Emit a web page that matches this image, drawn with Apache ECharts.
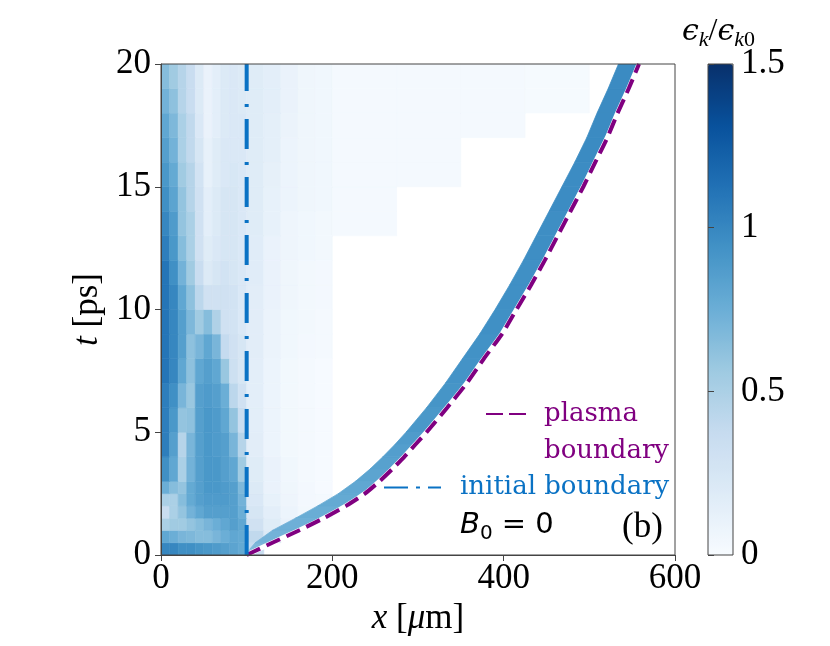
<!DOCTYPE html>
<html>

<head>
    <meta charset="utf-8" />
    <title>B0 = 0 (b)</title>
    <script src="https://cdn.jsdelivr.net/npm/echarts/dist/echarts.min.js"></script>
    <style>
        html, body {
            margin: 0;
            padding: 0;
            background: #fff;
        }

        #main {
            width: 830px;
            height: 646px;
        }
    </style>
</head>

<body>
    <div id="main"></div>
</body>

<script>
    // 网格边界 (x: µm, t: ps)
    var xEdges = [0, 10, 20, 30, 40, 50, 60, 70, 80, 90, 100, 120, 140, 160, 180, 200, 275, 350, 425, 500];
    var tEdges = [0, 0.5, 1, 1.5, 2, 2.5, 3, 4, 5, 6, 7, 8, 9, 10, 11, 12, 13, 14, 15, 16, 17, 18, 19, 20];

    // 每行对应一个 t 区间 (从 t=0 开始), 每列对应一个 x 区间, 值为 ϵk/ϵk0
    var fieldRows = [
        [1.0, 1.0, 0.95, 0.95, 0.92, 0.9, 0.88, 0.85, 0.82, 0.78, 0.35, 0, 0, 0, 0, 0, 0, 0, 0],
        [0.8, 0.75, 0.7, 0.68, 0.65, 0.65, 0.7, 0.75, 0.8, 0.78, 0.4, 0.2, 0, 0, 0, 0, 0, 0, 0],
        [0.5, 0.55, 0.55, 0.6, 0.65, 0.7, 0.75, 0.8, 0.85, 0.8, 0.3, 0.18, 0.1, 0, 0, 0, 0, 0, 0],
        [0.35, 0.5, 0.6, 0.72, 0.8, 0.85, 0.85, 0.85, 0.85, 0.75, 0.25, 0.15, 0.08, 0.04, 0.02, 0, 0, 0, 0],
        [0.5, 0.5, 0.65, 0.78, 0.85, 0.88, 0.88, 0.88, 0.85, 0.72, 0.22, 0.12, 0.07, 0.03, 0.02, 0, 0, 0, 0],
        [0.75, 0.65, 0.6, 0.78, 0.85, 0.9, 0.9, 0.88, 0.85, 0.68, 0.2, 0.1, 0.06, 0.03, 0.01, 0, 0, 0, 0],
        [0.95, 0.8, 0.5, 0.72, 0.85, 0.9, 0.9, 0.85, 0.8, 0.55, 0.18, 0.1, 0.05, 0.02, 0.01, 0, 0, 0, 0],
        [1.05, 0.85, 0.45, 0.7, 0.85, 0.9, 0.88, 0.85, 0.7, 0.45, 0.16, 0.08, 0.04, 0.02, 0.01, 0, 0, 0, 0],
        [1.05, 0.9, 0.6, 0.62, 0.85, 0.9, 0.88, 0.8, 0.6, 0.35, 0.15, 0.08, 0.04, 0.02, 0.01, 0, 0, 0, 0],
        [1.05, 0.95, 0.7, 0.58, 0.85, 0.88, 0.85, 0.75, 0.42, 0.3, 0.15, 0.08, 0.04, 0.02, 0.01, 0, 0, 0, 0],
        [1.1, 1.0, 0.8, 0.62, 0.8, 0.85, 0.8, 0.58, 0.32, 0.25, 0.15, 0.08, 0.04, 0.02, 0.01, 0, 0, 0, 0],
        [1.1, 1.0, 0.85, 0.62, 0.7, 0.8, 0.7, 0.38, 0.3, 0.25, 0.16, 0.09, 0.05, 0.03, 0.02, 0, 0, 0, 0],
        [1.1, 1.0, 0.85, 0.68, 0.55, 0.65, 0.48, 0.3, 0.28, 0.22, 0.16, 0.09, 0.05, 0.04, 0.02, 0, 0, 0, 0],
        [1.1, 1.0, 0.8, 0.62, 0.42, 0.3, 0.3, 0.3, 0.28, 0.22, 0.16, 0.1, 0.06, 0.04, 0.03, 0, 0, 0, 0],
        [1.1, 0.95, 0.72, 0.55, 0.35, 0.2, 0.25, 0.28, 0.25, 0.22, 0.17, 0.1, 0.06, 0.04, 0.03, 0, 0, 0, 0],
        [1.05, 0.9, 0.65, 0.5, 0.3, 0.18, 0.22, 0.25, 0.25, 0.22, 0.17, 0.1, 0.07, 0.05, 0.04, 0, 0, 0, 0],
        [1.0, 0.88, 0.6, 0.5, 0.3, 0.15, 0.2, 0.25, 0.25, 0.22, 0.18, 0.12, 0.07, 0.05, 0.04, 0.02, 0, 0, 0],
        [0.95, 0.82, 0.6, 0.45, 0.3, 0.15, 0.2, 0.25, 0.25, 0.22, 0.18, 0.12, 0.08, 0.06, 0.05, 0.02, 0, 0, 0],
        [0.9, 0.78, 0.55, 0.45, 0.28, 0.12, 0.18, 0.22, 0.24, 0.22, 0.18, 0.13, 0.08, 0.06, 0.05, 0.02, 0.02, 0, 0],
        [0.85, 0.72, 0.5, 0.4, 0.25, 0.12, 0.18, 0.22, 0.22, 0.22, 0.18, 0.14, 0.08, 0.06, 0.05, 0.02, 0.02, 0, 0],
        [0.8, 0.68, 0.5, 0.4, 0.22, 0.1, 0.15, 0.2, 0.22, 0.22, 0.18, 0.14, 0.09, 0.06, 0.05, 0.02, 0.02, 0.02, 0],
        [0.72, 0.62, 0.45, 0.35, 0.2, 0.1, 0.15, 0.2, 0.22, 0.2, 0.18, 0.15, 0.1, 0.06, 0.05, 0.02, 0.02, 0.02, 0.015],
        [0.65, 0.55, 0.45, 0.35, 0.2, 0.1, 0.15, 0.2, 0.22, 0.2, 0.18, 0.15, 0.1, 0.06, 0.05, 0.02, 0.02, 0.02, 0.015]
    ];

    // 等离子体边界 (虚线) 以及其内侧的高能带
    var boundaryT = [0, 0.25, 0.5, 1, 1.5, 2, 2.5, 3, 3.5, 4, 4.5, 5, 6, 7, 8, 9, 10, 11, 12, 13, 14, 15, 16, 17, 18, 19, 20];
    var plasmaX = [100, 115, 130, 161, 190, 216, 238, 255, 270, 284, 297, 310, 334, 357, 377, 398, 415, 432, 448, 463, 478, 493, 507, 521, 533, 546, 558];
    var bandInnerX = [100, 104, 110, 130, 157, 183, 207, 227, 244, 259, 273, 286, 310, 332, 352, 372, 390, 407, 423, 438, 453, 468, 483, 497, 509, 522, 534];
    var bandLevel = [0.6, 0.68, 0.72, 0.74, 0.76, 0.78, 0.8, 0.82, 0.84, 0.86, 0.88, 0.9, 0.92, 0.93, 0.94, 0.95, 0.95, 0.95, 0.96, 0.96, 0.97, 0.97, 0.98, 0.98, 0.98, 0.98];

    // 初始边界
    var initialX = 100;
    var initialT = [0, 20];

    // Blues 色带
    var blues = ['#f7fbff', '#deebf7', '#c6dbef', '#9ecae1', '#6baed6', '#4292c6', '#2171b5', '#08519c', '#08306b'];

    var serif = 'Liberation Serif';
    var legendFont = 'DejaVu Serif';
    var purple = '#800080';
    var blue = '#0a72c4';

    // 组装数据
    var fieldData = [];
    for (var r = 0; r < fieldRows.length; r++) {
        for (var c = 0; c < fieldRows[r].length; c++) {
            var v = fieldRows[r][c];
            if (v > 0) {
                fieldData.push([xEdges[c], xEdges[c + 1], tEdges[r], tEdges[r + 1], v]);
            }
        }
    }
    var bandData = bandLevel.map(function (v, i) { return [i, v]; });
    var plasmaLine = boundaryT.map(function (t, i) { return [plasmaX[i], t]; });
    var initialLine = initialT.map(function (t) { return [initialX, t]; });

    function renderCell(params, api) {
        var p0 = api.coord([api.value(0), api.value(3)]);
        var p1 = api.coord([api.value(1), api.value(2)]);
        var color = api.visual('color');
        return {
            type: 'rect',
            shape: { x: p0[0], y: p0[1], width: p1[0] - p0[0], height: p1[1] - p0[1] },
            style: { fill: color, stroke: color, lineWidth: 0.6 }
        };
    }

    function renderBand(params, api) {
        var i = api.value(0);
        var pts = [
            api.coord([plasmaX[i], boundaryT[i]]),
            api.coord([plasmaX[i + 1], boundaryT[i + 1]]),
            api.coord([bandInnerX[i + 1], boundaryT[i + 1]]),
            api.coord([bandInnerX[i], boundaryT[i]])
        ];
        var color = api.visual('color');
        return {
            type: 'polygon',
            shape: { points: pts },
            style: { fill: color, stroke: color, lineWidth: 0.8 }
        };
    }

    var myChart = echarts.init(document.getElementById('main'));

    var tickLabel = { fontFamily: serif, fontSize: 35, color: '#000' };

    var option = {
        animation: false,
        backgroundColor: '#fff',
        grid: [
            { left: 161, top: 64, width: 514, height: 491, show: true, z: 5, borderColor: '#444', borderWidth: 1, backgroundColor: 'rgba(0,0,0,0)' },
            { left: 708, top: 64, width: 25, height: 491, show: true, z: 5, borderColor: '#444', borderWidth: 1, backgroundColor: 'rgba(0,0,0,0)' }
        ],
        xAxis: [
            {
                gridIndex: 0, type: 'value', min: 0, max: 600, interval: 200, z: 10,
                axisLine: { lineStyle: { color: '#444', width: 1 } },
                axisTick: { inside: false, length: 6, lineStyle: { color: '#444' } },
                axisLabel: Object.assign({ margin: 6 }, tickLabel),
                splitLine: { show: false },
                name: '{i|x} [{i|μ}m]',
                nameLocation: 'middle',
                nameGap: 43,
                nameTextStyle: {
                    fontFamily: serif, fontSize: 35, color: '#000',
                    rich: { i: { fontFamily: serif, fontStyle: 'italic', fontSize: 35, color: '#000' } }
                }
            },
            { gridIndex: 1, type: 'value', min: 0, max: 1, show: false }
        ],
        yAxis: [
            {
                gridIndex: 0, type: 'value', min: 0, max: 20, interval: 5, z: 10,
                axisLine: { lineStyle: { color: '#444', width: 1 } },
                axisTick: { inside: false, length: 6, lineStyle: { color: '#444' } },
                axisLabel: Object.assign({ margin: 10 }, tickLabel),
                splitLine: { show: false },
                name: '{i|t} [ps]',
                nameLocation: 'middle',
                nameRotate: 90,
                nameGap: 51,
                nameTextStyle: {
                    fontFamily: serif, fontSize: 35, color: '#000',
                    rich: { i: { fontFamily: serif, fontStyle: 'italic', fontSize: 35, color: '#000' } }
                }
            },
            {
                gridIndex: 1, type: 'value', position: 'right', min: 0, max: 1.5, interval: 0.5, z: 10,
                axisLine: { show: false },
                axisTick: { inside: false, length: 6, lineStyle: { color: '#444' } },
                axisLabel: Object.assign({ margin: 8 }, tickLabel),
                splitLine: { show: false }
            }
        ],
        visualMap: [
            {
                type: 'continuous', show: true, min: 0, max: 1.5,
                left: 708, top: 64, itemWidth: 25, itemHeight: 491, padding: 0,
                calculable: false, hoverLink: false, text: null,
                seriesIndex: 0, dimension: 4,
                inRange: { color: blues }
            },
            {
                type: 'continuous', show: false, min: 0, max: 1.5,
                seriesIndex: 1, dimension: 1,
                inRange: { color: blues }
            }
        ],
        legend: [
            {
                left: 485, top: 358.5, padding: 0, orient: 'vertical', selectedMode: false,
                itemWidth: 42, itemHeight: 14,
                itemStyle: { opacity: 0, borderWidth: 0 },
                lineStyle: { type: [17, 6] },
                formatter: function (name) { return '\n' + name.replace(' ', '\n'); },
                textStyle: { fontFamily: legendFont, fontSize: 26, lineHeight: 37, color: purple, padding: [0, 0, 0, 11] },
                data: ['plasma boundary']
            },
            {
                left: 383, top: 469, padding: 0, orient: 'vertical', selectedMode: false,
                itemWidth: 57, itemHeight: 14,
                itemStyle: { opacity: 0, borderWidth: 0 },
                lineStyle: { type: [24, 8, 4, 8] },
                textStyle: { fontFamily: legendFont, fontSize: 26, lineHeight: 37, color: blue, padding: [0, 0, 0, 14] },
                data: ['initial boundary']
            }
        ],
        graphic: [
            {
                type: 'text', left: 460, top: 511, z: 20,
                style: {
                    text: '{b|B}{s|0}{n| = 0}',
                    rich: {
                        b: { fontFamily: 'DejaVu Sans', fontStyle: 'italic', fontSize: 29, lineHeight: 36, fill: '#000' },
                        s: { fontFamily: 'DejaVu Sans', fontSize: 20, lineHeight: 36, verticalAlign: 'bottom', fill: '#000' },
                        n: { fontFamily: 'DejaVu Sans', fontSize: 29, lineHeight: 36, fill: '#000' }
                    }
                }
            },
            {
                type: 'text', left: 622, top: 510, z: 20,
                style: { text: '(b)', fontFamily: serif, fontSize: 35, fill: '#000' }
            },
            {
                type: 'text', left: 682, top: 16, z: 20,
                style: {
                    text: '{i|ϵ}{s|k}{n|/}{i|ϵ}{s|k}{z|0}',
                    rich: {
                        i: { fontFamily: 'DejaVu Serif', fontStyle: 'italic', fontSize: 30, lineHeight: 38, fill: '#000' },
                        n: { fontFamily: serif, fontSize: 32, lineHeight: 38, fill: '#000' },
                        s: { fontFamily: serif, fontStyle: 'italic', fontSize: 22, lineHeight: 38, verticalAlign: 'bottom', fill: '#000' },
                        z: { fontFamily: serif, fontSize: 22, lineHeight: 38, verticalAlign: 'bottom', fill: '#000' }
                    }
                }
            }
        ],
        series: [
            {
                type: 'custom',
                name: 'field',
                xAxisIndex: 0, yAxisIndex: 0,
                renderItem: renderCell,
                clip: true,
                data: fieldData
            },
            {
                type: 'custom',
                name: 'band',
                xAxisIndex: 0, yAxisIndex: 0,
                renderItem: renderBand,
                clip: true,
                data: bandData
            },
            {
                type: 'line',
                name: 'halo',
                xAxisIndex: 0, yAxisIndex: 0,
                data: plasmaLine,
                symbol: 'none',
                smooth: 0.2,
                lineStyle: { color: '#fff', width: 5 },
                silent: true
            },
            {
                type: 'line',
                name: 'plasma boundary',
                xAxisIndex: 0, yAxisIndex: 0,
                data: plasmaLine,
                symbol: 'none',
                smooth: 0.2,
                itemStyle: { color: purple },
                lineStyle: { color: purple, width: 4, type: [15, 7] },
                z: 4
            },
            {
                type: 'line',
                name: 'initial boundary',
                xAxisIndex: 0, yAxisIndex: 0,
                data: initialLine,
                symbol: 'none',
                itemStyle: { color: blue },
                lineStyle: { color: blue, width: 4, type: [30, 12, 3, 13] },
                z: 4
            },
            {
                type: 'line',
                name: 'colorbar',
                xAxisIndex: 1, yAxisIndex: 1,
                data: []
            }
        ]
    };

    myChart.setOption(option);
</script>

</html>
